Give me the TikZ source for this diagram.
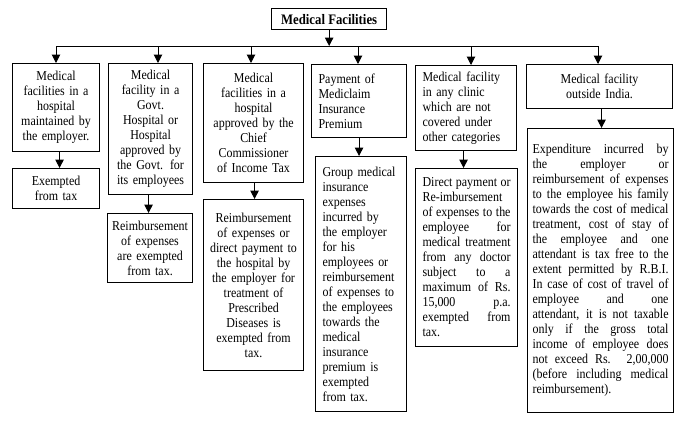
\documentclass[tikz,border=0pt]{standalone}
\usepackage{fontspec}
\setmainfont{Liberation Serif}[FakeStretch=0.88]
\usetikzlibrary{arrows.meta}
\begin{document}
\begin{tikzpicture}[x=1pt,y=-1pt,
  box/.style={draw, line width=1.1pt, inner ysep=2pt, inner xsep=4pt,
    font=\fontsize{13.6pt}{15pt}\selectfont, anchor=north west},
  ctr/.style={box, align=center},
  lft/.style={box, align=left, inner xsep=7pt},
  jst/.style={box, align=justify},
  conn/.style={line width=1pt},
  arr/.style={conn, -{Triangle[length=8.5pt,width=8.5pt]}},
]
\useasboundingbox (0,0) rectangle (683,424);

% title
\node[box, line width=1.3pt, font=\bfseries\fontsize{14.5pt}{15pt}\selectfont,
  minimum width=115pt, minimum height=21pt, inner xsep=3pt] (T) at (271,8) {Medical Facilities};

% first row
\node[ctr, minimum width=87pt, text width=79pt, minimum height=88pt] (B1) at (12,63)
  {Medical\\facilities in a\\hospital\\maintained by\\the employer.};
\node[ctr, minimum width=84pt, text width=76pt, minimum height=131pt] (B2) at (108,63)
  {Medical\\facility in a\\Govt.\\Hospital or\\Hospital\\approved by\\the Govt. for\\its employees};
\node[ctr, minimum width=100pt, text width=92pt, minimum height=119pt] (B3) at (203,63)
  {Medical\\facilities in a\\hospital\\approved by the\\Chief\\Commissioner\\of Income Tax};
\node[lft, minimum width=95pt, text width=81pt, minimum height=73pt] (B4) at (311,64)
  {Payment of\\Mediclaim\\Insurance\\Premium};
\node[lft, minimum width=101pt, text width=87pt, minimum height=85pt] (B5) at (415,65)
  {Medical facility\\in any clinic\\which are not\\covered under\\other categories};
\node[ctr, minimum width=146pt, text width=138pt, minimum height=44pt] (B6) at (526,64)
  {Medical facility\\outside India.};

% second row
\node[ctr, minimum width=87pt, text width=79pt, minimum height=40pt] (C1) at (12,168)
  {Exempted\\from tax};
\node[ctr, minimum width=85pt, text width=77pt, minimum height=69pt] (C2) at (107,213)
  {Reimbursement\\of expenses\\are exempted\\from tax.};
\node[ctr, minimum width=100pt, text width=92pt, minimum height=171pt] (C3) at (203,199)
  {Reimbursement\\of expenses or\\direct payment to\\the hospital by\\the employer for\\treatment of\\Prescribed\\Diseases is\\exempted from\\tax.};
\node[lft, minimum width=91pt, text width=77pt, minimum height=255pt] (C4) at (315,156)
  {Group medical\\insurance\\expenses\\incurred by\\the employer\\for his\\employees or\\reimbursement\\of expenses to\\the employees\\towards the\\medical\\insurance\\premium is\\exempted\\from tax.};
\node[jst, inner xsep=7pt, minimum width=102pt, text width=88pt, minimum height=178pt] (C5) at (415,168)
  {Direct payment or\linebreak Re-imbursement\linebreak of expenses to the\linebreak employee for\linebreak medical treatment\linebreak from any doctor\linebreak subject to a\linebreak maximum of Rs.\linebreak 15,000 p.a.\linebreak exempted from\linebreak tax.};
\node[jst, inner xsep=5pt, minimum width=146pt, text width=136pt, minimum height=284pt] (C6) at (527,128)
  {Expenditure incurred by\linebreak the employer or\linebreak reimbursement of expenses\linebreak to the employee his family\linebreak towards the cost of medical\linebreak treatment, cost of stay of\linebreak the employee and one\linebreak attendant is tax free to the\linebreak extent permitted by R.B.I.\linebreak In case of cost of travel of\linebreak employee and one\linebreak attendant, it is not taxable\linebreak only if the gross total\linebreak income of employee does\linebreak not exceed Rs. 2,00,000\linebreak (before including medical\linebreak reimbursement).\par\vspace*{10pt}};

% bus
\coordinate (bl) at (56,46);
\coordinate (br) at (598,46);
\coordinate (d2) at (158,46);
\coordinate (d3) at (251,46);
\coordinate (d4) at (358,46);
\coordinate (d5) at (471,46);
\draw[conn] (bl) -- (br);
\draw[arr] (T.south) -- (T.south |- bl);
\draw[arr] (bl) -- (bl |- B1.north);
\draw[arr] (d2) -- (d2 |- B2.north);
\draw[arr] (d3) -- (d3 |- B3.north);
\draw[arr] (d4) -- (d4 |- B4.north);
\draw[arr] (d5) -- (d5 |- B5.north);
\draw[arr] (br) -- (br |- B6.north);

% first row to second row
\draw[arr] ([xshift=3.5pt]B1.south) -- ([xshift=3.5pt]B1.south |- C1.north);
\draw[arr] ([xshift=-2pt]B2.south) -- ([xshift=-2pt]B2.south |- C2.north);
\draw[arr] ([xshift=1pt]B3.south) -- ([xshift=1pt]B3.south |- C3.north);
\draw[arr] (B4.south) -- (B4.south |- C4.north);
\draw[arr] ([xshift=-2.5pt]B5.south) -- ([xshift=-2.5pt]B5.south |- C5.north);
\draw[arr] ([xshift=2pt]B6.south) -- ([xshift=2pt]B6.south |- C6.north);
\end{tikzpicture}
\end{document}
